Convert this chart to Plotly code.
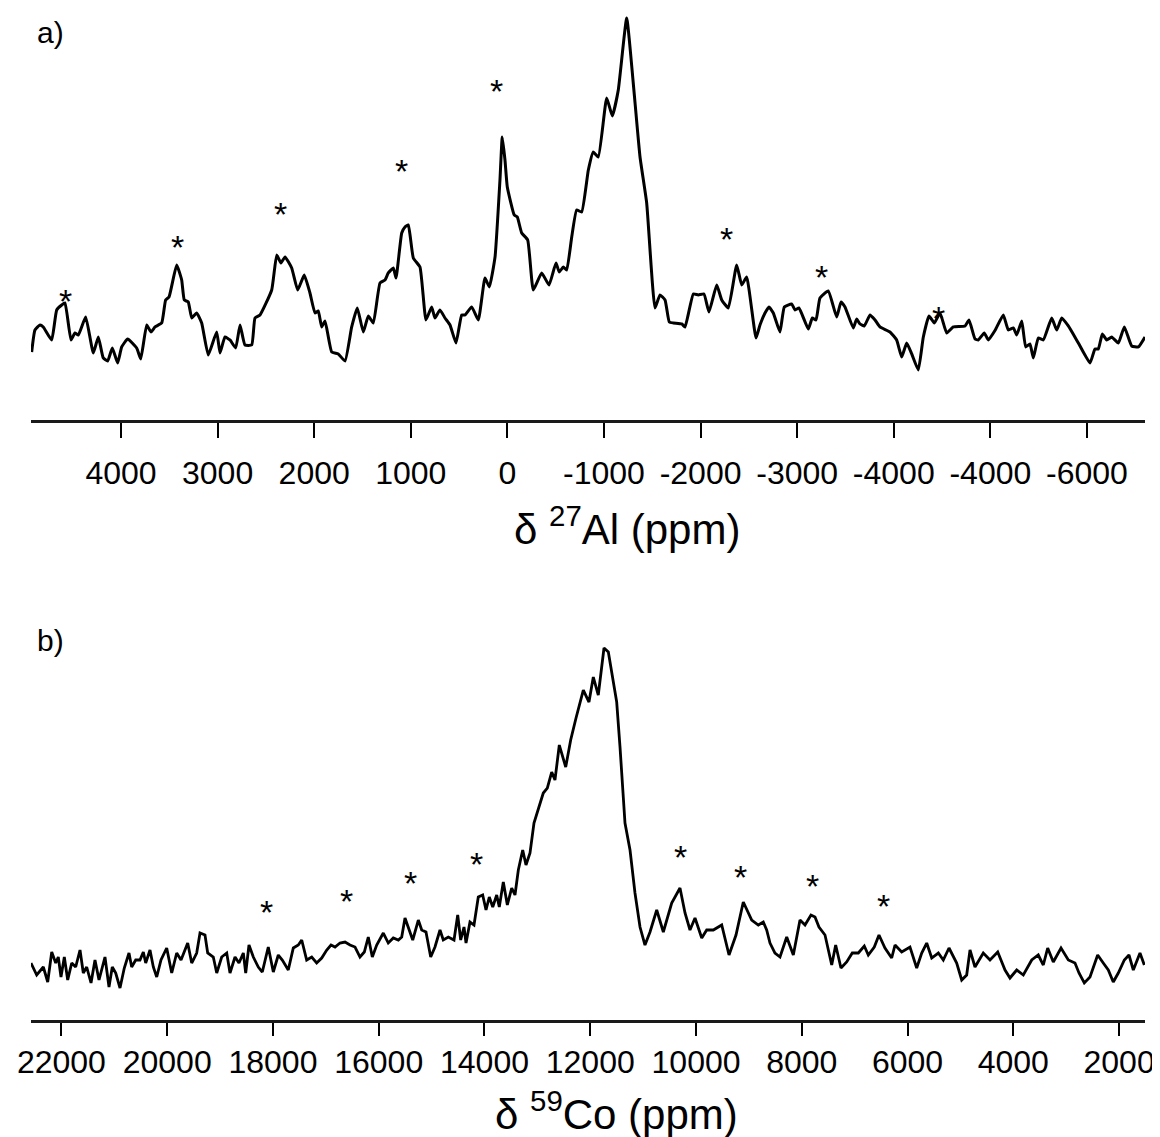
import plotly.graph_objects as go

# ---------------- Panel a) 27Al ----------------
al_ppm = [4925, 4891, 4839, 4805, 4718, 4666, 4614, 4580, 4518, 4477,
          4442, 4366, 4287, 4235, 4184, 4138, 4090, 4035, 3993, 3931,
          3838, 3796, 3734, 3690, 3648, 3579, 3538, 3503, 3424, 3372,
          3345, 3304, 3268, 3217, 3165, 3097, 3010, 2975, 2924, 2872,
          2813, 2768, 2717, 2647, 2613, 2561, 2440, 2388, 2344, 2302,
          2233, 2171, 2103, 2044, 1992, 1958, 1923, 1888, 1819, 1751,
          1681, 1612, 1554, 1492, 1440, 1388, 1319, 1267, 1233, 1181,
          1153, 1094, 1060,
          1026, 974, 905, 843, 784, 750, 698, 646, 594, 532,
          473, 439, 370, 301, 232, 187, 128, 77, 53, 25,
          1, -71, -102, -148, -210, -268, -355, -431, -503, -537,
          -579, -614, -666, -717, -769, -838, -889, -941, -1028, -1086,
          -1148, -1235, -1303, -1373, -1442, -1528, -1580, -1632, -1676, -1718,
          -1805, -1839, -1925, -1976, -2035, -2087, -2167, -2219, -2287, -2374,
          -2426, -2477, -2574, -2615, -2667, -2708, -2753,
          -2822, -2867, -2943, -2978, -3019, -3115, -3157, -3195, -3236, -3322,
          -3409, -3454, -3495, -3581, -3616, -3650, -3695, -3754, -3806, -3857,
          -3961, -4030, -4082, -4134, -4186, -4254, -4306, -4365, -4420, -4479,
          -4548, -4616, -4738, -4779, -4841, -4875, -4937, -4979, -5051, -5134,
          -5186, -5238, -5273, -5325, -5366, -5410, -5445, -5496, -5548, -5635,
          -5687, -5739, -5807, -5911, -6032, -6083, -6118, -6159, -6205, -6256,
          -6325, -6387, -6463, -6532, -6601]
al_int = [68, 90, 95, 93, 80, 110, 115, 117, 80, 87,
          85, 103, 67, 83, 62, 59, 72, 57, 73, 81,
          72, 61, 95, 88, 93, 97, 120, 123, 155, 140,
          120, 118, 102, 107, 97, 65, 88, 67, 83, 80,
          72, 95, 75, 75, 102, 105, 130, 165, 157, 163,
          152, 130, 145, 127, 107, 109, 93, 99, 68, 66,
          59, 93, 112, 88, 104, 97, 137, 140, 147, 152,
          142, 187, 193,
          195, 162, 153, 100, 113, 102, 110, 102, 95, 77,
          105, 105, 113, 100, 142, 133, 163, 240, 283, 260,
          233, 205, 203, 187, 180, 130, 147, 135, 157, 148,
          153, 150, 183, 210, 208, 250, 268, 263, 322, 304,
          330, 402, 337, 263, 217, 112, 125, 120, 98, 97,
          96, 93, 126, 125, 126, 108, 135, 120, 112, 155,
          135, 143, 82, 95, 107, 113, 107,
          88, 113, 116, 110, 112, 91, 102, 100, 122, 129,
          103, 118, 113, 92, 101, 96, 94, 105, 100, 93,
          88, 80, 63, 77, 66, 50, 83, 104, 97, 107,
          87, 93, 94, 100, 81, 80, 87, 80, 90, 105,
          90, 92, 85, 99, 73, 76, 62, 82, 80, 102,
          90, 102, 94, 77, 57, 71, 71, 86, 80, 83,
          77, 93, 74, 73, 83]
al_star_ppm = [4580, 3415, 2344, 1100, 118, -2270, -3253, -4461]
al_star_int = [125, 179, 212, 255, 335, 187, 149, 108]
al_tickvals = [4000, 3000, 2000, 1000, 0, -1000, -2000, -3000, -4000, -5000, -6000]
al_ticktext = ["4000", "3000", "2000", "1000", "0", "-1000", "-2000", "-3000", "-4000", "-4000", "-6000"]
al_title = "δ <sup>27</sup>Al (ppm)"

# ---------------- Panel b) 59Co ----------------
co_ppm = [22575, 22467, 22342, 22259, 22183, 22108, 22059, 22008, 21945, 21881,
          21805, 21730, 21648, 21586, 21522, 21440, 21365, 21289, 21176, 21100,
          21038, 20973, 20892, 20811, 20722, 20671, 20595, 20514, 20451, 20406,
          20325, 20262, 20198, 20117, 20009, 19914, 19820, 19738, 19612, 19536,
          19442, 19379, 19285, 19234, 19128, 19063, 18969, 18874, 18812, 18717,
          18642, 18560, 18515, 18453, 18371, 18277, 18201, 18088, 17993, 17899,
          17823, 17710, 17615, 17520, 17456, 17362, 17267, 17173, 17078, 16983,
          16902, 16826, 16732, 16637, 16543, 16448, 16354, 16272, 16197, 16121,
          16038, 15913, 15819, 15724, 15629, 15565, 15503,
          15440, 15357, 15251, 15187, 15106, 15017, 14936, 14841, 14779, 14684,
          14576, 14506, 14450, 14387, 14349, 14274, 14198, 14117, 14034, 13971,
          13909, 13844, 13769, 13720, 13644, 13568, 13485, 13423, 13360, 13277,
          13215, 13139, 13064, 12963, 12888, 12812, 12729, 12667, 12585, 12464,
          12370, 12269, 12194, 12131, 12024, 11942, 11848, 11740, 11658, 11500,
          11437, 11343, 11248, 11154, 11059, 10965, 10870, 10743, 10618, 10460,
          10303, 10208, 10114, 10019, 9892, 9798, 9673, 9514, 9376, 9244,
          9106, 8947, 8822, 8728, 8664, 8601,
          8507, 8412, 8285, 8160, 8034, 7939, 7826, 7750, 7675, 7561,
          7434, 7359, 7259, 7151, 7045, 6931, 6818, 6742, 6629, 6540,
          6427, 6300, 6237, 6111, 5954, 5827, 5732, 5638, 5543, 5418,
          5324, 5216, 5071, 4976, 4882, 4819, 4725, 4568, 4441, 4295,
          4157, 4063, 3936, 3811, 3652, 3528, 3433, 3350, 3244, 3098,
          2960, 2834, 2758, 2658, 2550, 2405, 2299, 2204, 2110, 2015,
          1901, 1813, 1731, 1605, 1523]
co_int = [57, 45, 53, 38, 68, 57, 63, 43, 63, 40,
          57, 53, 70, 47, 53, 37, 60, 40, 63, 33,
          53, 47, 32, 52, 67, 53, 60, 60, 68, 57,
          70, 53, 43, 60, 72, 47, 67, 60, 77, 57,
          67, 87, 85, 67, 63, 47, 63, 67, 47, 63,
          57, 67, 47, 75, 63, 53, 48, 73, 48, 65,
          60, 50, 72, 75, 80, 60, 63, 57, 62, 70,
          75, 73, 77, 78, 75, 73, 63, 68, 83, 63,
          75, 87, 77, 82, 80, 83, 102,
          93, 80, 100, 90, 88, 63, 73, 90, 80, 83,
          80, 105, 80, 93, 77, 98, 95, 123, 125, 110,
          123, 113, 125, 113, 138, 115, 132, 125, 150, 170,
          155, 167, 197, 215, 227, 232, 248, 240, 275, 253,
          280, 302, 317, 330, 318, 343, 325, 372, 368, 318,
          273, 197, 170, 127, 93, 75, 88, 110, 88, 117,
          132, 107, 90, 102, 82, 90, 90, 95, 65, 85,
          118, 100, 95, 98, 90, 77,
          67, 63, 83, 65, 100, 95, 105, 103, 93, 85,
          55, 75, 52, 58, 67, 67, 74, 65, 73, 85,
          72, 62, 75, 68, 73, 52, 67, 77, 62, 67,
          60, 72, 57, 40, 45, 70, 53, 67, 60, 68,
          50, 42, 50, 45, 60, 65, 55, 72, 58, 72,
          60, 57, 47, 37, 43, 65, 57, 50, 38, 47,
          60, 65, 50, 67, 55]
co_star_ppm = [18118, 16618, 15408, 14160, 10290, 9155, 7794, 6459]
co_star_int = [114, 125, 143, 162, 169, 149, 140, 120]
co_tickvals = [22000, 20000, 18000, 16000, 14000, 12000, 10000, 8000, 6000, 4000, 2000]
co_ticktext = [str(v) for v in co_tickvals]
co_title = "δ <sup>59</sup>Co (ppm)"

FONT = "Liberation Sans, Arial, Helvetica, sans-serif"

fig = go.Figure()
fig.add_trace(go.Scatter(x=al_ppm, y=al_int, mode="lines",
                         line=dict(color="black", width=3, shape="spline", smoothing=0.4),
                         xaxis="x", yaxis="y", showlegend=False, hoverinfo="skip"))
fig.add_trace(go.Scatter(x=co_ppm, y=co_int, mode="lines",
                         line=dict(color="black", width=2.8),
                         xaxis="x2", yaxis="y2", showlegend=False, hoverinfo="skip"))

STAR_FONT = dict(family=FONT, size=34, color="black")
annotations = []
for xv, yv in zip(al_star_ppm, al_star_int):
    annotations.append(dict(x=xv, y=yv, xref="x", yref="y", text="*", showarrow=False,
                            font=STAR_FONT, xanchor="center", yanchor="middle", yshift=-6))
for xv, yv in zip(co_star_ppm, co_star_int):
    annotations.append(dict(x=xv, y=yv, xref="x2", yref="y2", text="*", showarrow=False,
                            font=STAR_FONT, xanchor="center", yanchor="middle", yshift=-6))
LABEL_FONT = dict(family=FONT, size=30, color="black")
annotations.append(dict(x=0.004, y=0.978, xref="paper", yref="paper", text="a)", showarrow=False,
                        font=LABEL_FONT, xanchor="left", yanchor="middle"))
annotations.append(dict(x=0.004, y=0.376, xref="paper", yref="paper", text="b)", showarrow=False,
                        font=LABEL_FONT, xanchor="left", yanchor="middle"))
TITLE_FONT = dict(family=FONT, size=42, color="black")
annotations.append(dict(x=0.535, y=0.489, xref="paper", yref="paper", text=al_title, showarrow=False,
                        font=TITLE_FONT, xanchor="center", yanchor="middle"))
annotations.append(dict(x=0.526, y=-0.0905, xref="paper", yref="paper", text=co_title, showarrow=False,
                        font=TITLE_FONT, xanchor="center", yanchor="middle"))

axis_common = dict(showgrid=False, zeroline=False, showline=True, linecolor="#1a1a1a", linewidth=2.5,
                   ticks="outside", tickwidth=1.6, tickcolor="black",
                   tickfont=dict(family=FONT, size=32, color="black"),
                   automargin=False, fixedrange=True)

fig.update_layout(
    width=1160, height=1137,
    margin=dict(l=23, r=23, t=2, b=125),
    paper_bgcolor="white", plot_bgcolor="white",
    xaxis=dict(domain=[0, 1], anchor="y", range=[4932, -6601],
               tickmode="array", tickvals=al_tickvals, ticktext=al_ticktext,
               ticklen=15, ticklabelstandoff=8, **axis_common),
    yaxis=dict(domain=[0.5941, 1.0], anchor="x", range=[0, 410], visible=False, fixedrange=True),
    xaxis2=dict(domain=[0, 1], anchor="y2", range=[22575, 1510],
                tickmode="array", tickvals=co_tickvals, ticktext=co_ticktext,
                ticklen=13, ticklabelstandoff=-1, **axis_common),
    yaxis2=dict(domain=[0, 0.3861], anchor="x2", range=[0, 390], visible=False, fixedrange=True),
    annotations=annotations,
)

fig.write_html("out.html")
